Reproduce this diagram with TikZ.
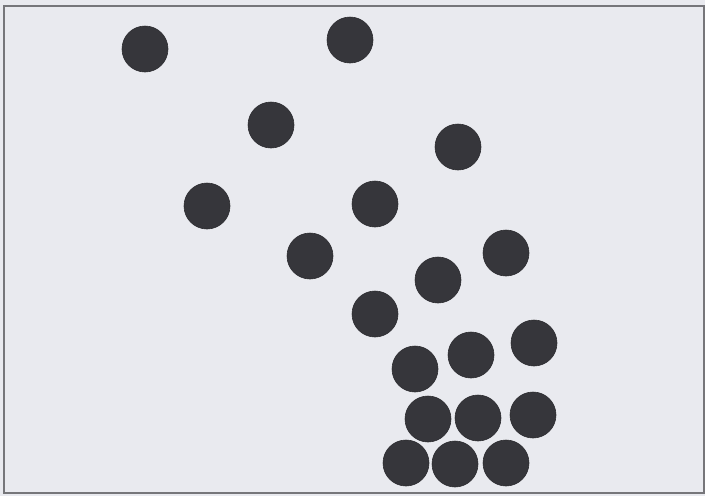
\documentclass[tikz,border=0pt]{standalone}
\definecolor{bg}{HTML}{E9EAEF}
\definecolor{ball}{HTML}{36363B}
\definecolor{frame}{HTML}{76767A}
\begin{document}
\begin{tikzpicture}[x=1pt,y=-1pt,
  ballstyle/.style={fill=ball,draw=ball!80!black,line width=0.6pt}]
\fill[bg] (0,0) rectangle (705,496);
\useasboundingbox (0,0) rectangle (705,496);
\draw[frame,line width=1.3pt] (4,6) rectangle (704,493);
\foreach \x/\y in {145/49,350/40,271/125,458/147,207/206,375/204,310/256,506/253,
  438/280,375/314,415/369,471/355,534/343,428/419,478/418,533/415,406/463,455/464,506/463}
  \fill[ballstyle] (\x,\y) circle (23);
\end{tikzpicture}
\end{document}
